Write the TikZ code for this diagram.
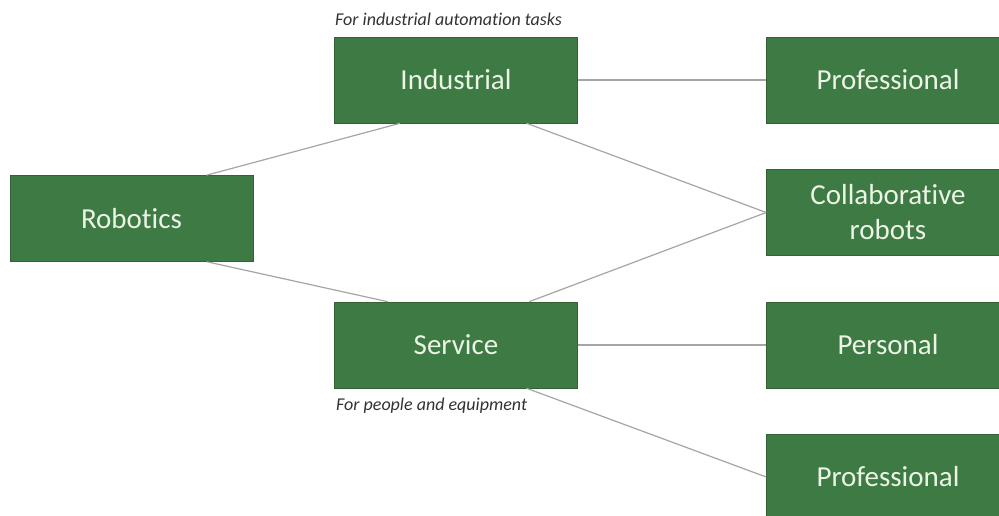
\documentclass[tikz,border=0pt]{standalone}
\usepackage{fontspec}
\setmainfont{Carlito}[Ligatures=NoCommon]
\usetikzlibrary{calc}
\definecolor{boxgreen}{RGB}{62,122,68}
\definecolor{boxtext}{RGB}{236,244,230}
\definecolor{linkgray}{RGB}{165,165,165}
\definecolor{notegray}{RGB}{50,50,50}
\tikzset{
  box/.style={rectangle, fill=boxgreen, draw=boxgreen!80!black, line width=0.6pt,
    minimum width=243pt, minimum height=86pt, inner sep=0pt,
    text=boxtext, font=\fontsize{29}{35}\selectfont, align=center},
  link/.style={draw=linkgray, line width=1.2pt},
  note/.style={text=notegray, font=\itshape\fontsize{18}{21}\selectfont, inner sep=0pt, anchor=west}
}
\begin{document}
\begin{tikzpicture}[x=1pt,y=-1pt]
\useasboundingbox (0,0) rectangle (999,515);
\node[box] (rob) at (131.5,218.5) {Robotics};
\node[box] (ind) at (456,80) {Industrial};
\node[box] (ser) at (456,345) {Service};
\node[box] (pro1) at (888,80) {Professional};
\node[box] (col) at (888,212.5) {Collaborative\\robots};
\node[box] (per) at (888,345) {Personal};
\node[box] (pro2) at (888,477) {Professional};
\node[note] (n1) at (335,19) {For industrial automation tasks};
\node[note] (n2) at (336,406) {For people and equipment};
\draw[link] ($(rob.north west)!0.808!(rob.north east)$) -- ($(ind.south west)!0.27!(ind.south east)$);
\draw[link] ($(rob.south west)!0.81!(rob.south east)$) -- ($(ser.north west)!0.22!(ser.north east)$);
\draw[link] (ind.east) -- (pro1.west);
\draw[link] ($(ind.south west)!0.79!(ind.south east)$) -- (col.west);
\draw[link] ($(ser.north west)!0.80!(ser.north east)$) -- (col.west);
\draw[link] (ser.east) -- (per.west);
\draw[link] ($(ser.south west)!0.79!(ser.south east)$) -- (pro2.west);
\end{tikzpicture}
\end{document}
